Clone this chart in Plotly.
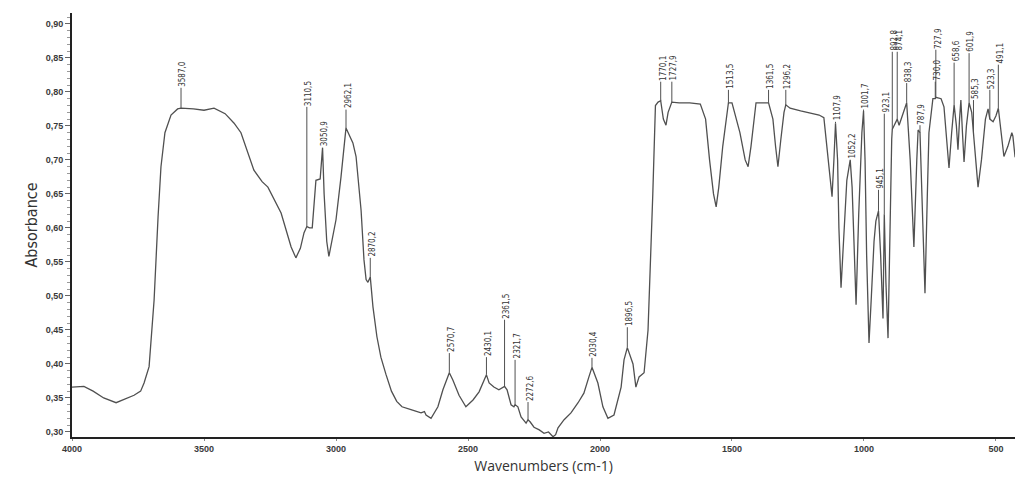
import numpy as np
import plotly.graph_objects as go

# ---- spectrum (wavenumber cm-1, absorbance) ----
wavenumber = [
    4000, 3955, 3920, 3880, 3833, 3800, 3765, 3740, 3727, 3708, 3700, 3689, 3674, 3663, 3648, 3625,
    3600, 3587, 3540, 3500, 3462, 3420, 3386, 3360, 3311, 3280, 3258, 3230, 3208, 3170, 3152, 3135,
    3121, 3110.5, 3100, 3090, 3076, 3060, 3050.9, 3045, 3035, 3027, 3011, 3000, 2981, 2970, 2962.1,
    2936, 2924, 2905, 2894, 2886, 2879, 2870.2, 2860, 2845, 2830, 2811, 2790, 2770, 2750, 2716,
    2690, 2678, 2665, 2659, 2640, 2614, 2595, 2570.7, 2557, 2534, 2508, 2481, 2458, 2430.1, 2420,
    2402, 2383, 2367, 2361.5, 2352, 2337, 2326, 2321.7, 2311, 2299, 2280, 2272.6, 2265, 2250, 2230,
    2212, 2195, 2178, 2168, 2159, 2136, 2110, 2083, 2061, 2042, 2030.4, 2008, 1989, 1970, 1947,
    1920, 1909, 1896.5, 1875, 1864, 1852, 1833, 1818, 1800, 1790, 1780, 1770.1, 1760, 1750, 1742,
    1727.9, 1700, 1660, 1620, 1600, 1585, 1570, 1560, 1550, 1535, 1520, 1513.5, 1500, 1470, 1450,
    1439, 1428, 1420, 1409, 1361.5, 1345, 1335, 1326, 1315, 1303, 1296.2, 1280, 1240, 1200, 1170,
    1152, 1140, 1130, 1121, 1114, 1107.9, 1100, 1095, 1087, 1078, 1065, 1052.2, 1045, 1038, 1030,
    1020, 1008, 1001.7, 996, 990, 981, 972, 962, 955, 945.1, 937, 928, 923.1, 917, 909, 902, 895,
    892.8, 884, 874.1, 867, 850, 838.3, 825, 811, 800, 795, 787.9, 780, 769, 760, 754, 739, 730.0,
    727.9, 708, 697, 688, 678, 668, 658.6, 650, 644, 638, 633, 627, 621, 612, 601.9, 592, 585.3,
    575, 568, 555, 540, 530, 523.3, 511, 500, 491.1, 480, 470, 455, 440, 436, 428, 420,
]
absorbance = [
    0.366, 0.367, 0.360, 0.350, 0.343, 0.348, 0.354, 0.360, 0.372, 0.396, 0.440, 0.494, 0.616, 0.690, 0.740, 0.766,
    0.775, 0.776, 0.775, 0.773, 0.776, 0.768, 0.754, 0.740, 0.685, 0.668, 0.660, 0.640, 0.622, 0.572, 0.556, 0.570,
    0.593, 0.602, 0.600, 0.600, 0.670, 0.672, 0.718, 0.650, 0.580, 0.558, 0.593, 0.612, 0.675, 0.720, 0.747,
    0.725, 0.705, 0.626, 0.553, 0.524, 0.520, 0.528, 0.484, 0.440, 0.410, 0.385, 0.360, 0.345, 0.337, 0.333,
    0.330, 0.328, 0.330, 0.325, 0.320, 0.337, 0.362, 0.387, 0.376, 0.354, 0.337, 0.347, 0.359, 0.384, 0.372,
    0.366, 0.362, 0.366, 0.367, 0.362, 0.340, 0.337, 0.340, 0.337, 0.322, 0.313, 0.318, 0.315, 0.307, 0.303,
    0.298, 0.300, 0.293, 0.296, 0.306, 0.318, 0.328, 0.343, 0.357, 0.381, 0.395, 0.372, 0.337, 0.320, 0.325,
    0.366, 0.406, 0.424, 0.400, 0.366, 0.381, 0.387, 0.450, 0.650, 0.780, 0.785, 0.787, 0.760, 0.751, 0.770,
    0.785, 0.784, 0.784, 0.782, 0.760, 0.700, 0.650, 0.631, 0.660, 0.720, 0.770, 0.784, 0.784, 0.740, 0.700,
    0.690, 0.720, 0.750, 0.784, 0.784, 0.760, 0.720, 0.690, 0.730, 0.770, 0.781, 0.776, 0.772, 0.768, 0.766,
    0.762, 0.720, 0.680, 0.646, 0.700, 0.754, 0.700, 0.600, 0.512, 0.580, 0.670, 0.700, 0.660, 0.580, 0.487,
    0.620, 0.740, 0.772, 0.700, 0.560, 0.431, 0.500, 0.580, 0.610, 0.625, 0.560, 0.467, 0.620, 0.520, 0.438, 0.600, 0.730,
    0.745, 0.752, 0.760, 0.751, 0.770, 0.784, 0.700, 0.572, 0.700, 0.744, 0.740, 0.640, 0.504, 0.650, 0.740, 0.790, 0.790,
    0.792, 0.790, 0.778, 0.740, 0.688, 0.740, 0.781, 0.750, 0.715, 0.760, 0.788, 0.740, 0.697, 0.750, 0.784, 0.770, 0.740,
    0.690, 0.660, 0.700, 0.760, 0.775, 0.760, 0.756, 0.765, 0.776, 0.740, 0.705, 0.720, 0.740, 0.735, 0.705, 0.700,
]

# ---- peak labels ----
peak_wn = [3587.0, 3110.5, 3050.9, 2962.1, 2870.2, 2570.7, 2430.1, 2361.5, 2321.7, 2272.6,
           2030.4, 1896.5, 1770.1, 1727.9, 1513.5, 1361.5, 1296.2, 1107.9, 1052.2, 1001.7,
           945.1, 923.1, 892.8, 874.1, 838.3, 787.9, 730.0, 727.9, 658.6, 601.9, 585.3, 523.3, 491.1]
label_base = [0.806, 0.778, 0.718, 0.774, 0.556, 0.416, 0.410, 0.465, 0.406, 0.344,
              0.409, 0.454, 0.815, 0.815, 0.803, 0.803, 0.803, 0.756, 0.700, 0.774,
              0.656, 0.768, 0.859, 0.859, 0.813, 0.751, 0.815, 0.862, 0.843, 0.857, 0.788, 0.803, 0.840]

y_ticks = [0.30, 0.35, 0.40, 0.45, 0.50, 0.55, 0.60, 0.65, 0.70, 0.75, 0.80, 0.85, 0.90]
x_ticks = [4000, 3500, 3000, 2500, 2000, 1500, 1000, 500]

wn = np.array(wavenumber, dtype=float)
ab = np.array(absorbance, dtype=float)
order = np.argsort(wn)
peak_y = np.interp(peak_wn, wn[order], ab[order])

curve_col = "#505050"
narrow = "DejaVu Sans Condensed, Liberation Sans Narrow, Liberation Sans, Arial"
fig = go.Figure()
fig.add_trace(go.Scatter(x=wavenumber, y=absorbance, mode="lines",
                         line=dict(color=curve_col, width=1.3), showlegend=False,
                         hoverinfo="skip", cliponaxis=True))

lx, ly = [], []
for w, py, b in zip(peak_wn, peak_y, label_base):
    lx += [w, w, None]
    ly += [py, max(b, py), None]
fig.add_trace(go.Scatter(x=lx, y=ly, mode="lines", line=dict(color=curve_col, width=1),
                         showlegend=False, hoverinfo="skip"))

for w, py, b in zip(peak_wn, peak_y, label_base):
    fig.add_annotation(x=w, y=max(b, py), text=f"{w:.1f}".replace(".", ","),
                       showarrow=False, textangle=-90, xanchor="center", yanchor="bottom",
                       font=dict(family=narrow, size=8, color="#333"),
                       borderpad=0, xshift=2)

tick_font = dict(family="Liberation Sans, Arial", size=9, color="#3a3a3a", weight="bold")
fig.update_layout(
    width=1015, height=481,
    margin=dict(l=72, r=0, t=13, b=44),
    paper_bgcolor="white", plot_bgcolor="white",
    separators=", ",
    showlegend=False,
    xaxis=dict(range=[4000, 428], tickvals=x_ticks, tickformat="d", automargin=False,
               showgrid=False, zeroline=False, showline=True, linecolor="#222", linewidth=2,
               ticks="outside", ticklen=2, tickcolor="#888",
               tickfont=tick_font,
               title=dict(text="Wavenumbers (cm-1)", standoff=8,
                          font=dict(family="Open Sans, Noto Sans", size=14, color="#333"))),
    yaxis=dict(range=[0.2926, 0.916], tickvals=y_ticks, tickformat=".2f", automargin=False,
               showgrid=False, zeroline=False, showline=True, linecolor="#222", linewidth=2,
               ticks="outside", ticklen=5, tickcolor="#666",
               minor=dict(dtick=0.01, ticks="outside", ticklen=3, tickcolor="#999", showgrid=False),
               tickfont=tick_font,
               title=dict(text="Absorbance", standoff=4,
                          font=dict(family=narrow, size=16, color="#333"))),
)
fig.write_html("out.html", config={"displayModeBar": False},
               post_script="document.body.style.margin='0';")
